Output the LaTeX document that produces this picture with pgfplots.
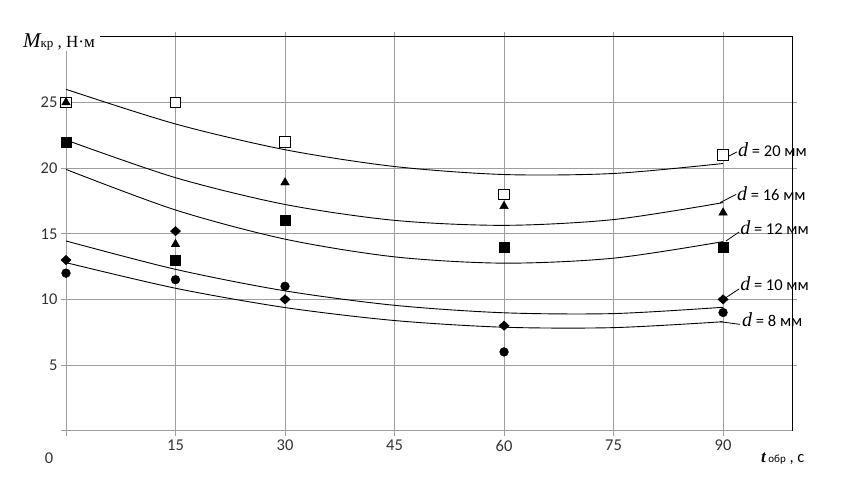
\documentclass[border=0pt]{standalone}
\usepackage{fontspec}
\setmainfont{Carlito}
\newfontfamily\serifit{Liberation Serif}
\usepackage{pgfplots}
\pgfplotsset{compat=1.18}
\newcommand{\fs}[1]{\fontsize{#1}{#1}\selectfont}
\newcommand{\dlab}[1]{{\fs{20}\serifit\itshape d}{\fs{16.5} = #1 мм}}

\begin{document}
\begin{tikzpicture}
\path[use as bounding box] (0,0) rectangle (866pt,481pt);
\begin{axis}[
  at={(66pt,50.3pt)}, anchor=south west,
  scale only axis, width=726.4pt, height=393.9pt,
  xmin=0, xmax=99.5, ymin=0, ymax=30,
  axis line style={draw=none},
  xtick={0,15,...,90}, xticklabels={,15,30,45,60,75,90},
  ytick={5,10,...,25},
  grid=major, grid style={black!38, line width=0.9pt},
  tick align=outside, major tick length=5pt,
  tick style={black!38, line width=0.9pt},
  ticklabel style={font=\fs{16.5}, text=black!80},
  xticklabel style={yshift=-1pt},
  /pgf/number format/assume math mode=true,
  clip=false,
]
% trend lines
\addplot[black, line width=0.9pt, smooth] coordinates
  {(0,26.0) (15,23.36) (30,21.4) (45,20.12) (60,19.51) (75,19.59) (90,20.35)};
\addplot[black, line width=0.9pt, smooth] coordinates
  {(0,22.14) (15,19.27) (30,17.23) (45,16.02) (60,15.64) (75,16.08) (90,17.37)};
\addplot[black, line width=0.9pt, smooth] coordinates
  {(0,19.9) (15,16.81) (30,14.59) (45,13.24) (60,12.76) (75,13.14) (90,14.4)};
\addplot[black, line width=0.9pt, smooth] coordinates
  {(0,14.45) (15,12.29) (30,10.65) (45,9.55) (60,8.98) (75,8.92) (90,9.4)};
\addplot[black, line width=0.9pt, smooth] coordinates
  {(0,12.8) (15,10.85) (30,9.38) (45,8.39) (60,7.88) (75,7.85) (90,8.3)};
% measured points
\addplot[only marks, mark=square*, mark size=5.3pt,
  mark options={fill=white, draw=black, line width=0.9pt}] coordinates
  {(0,25) (15,25) (30,22) (60,18) (90,21)};
\addplot[only marks, mark=triangle*, mark size=5pt, mark options={fill=black}] coordinates
  {(0,25) (15,14.2) (30,18.9) (60,17.1) (90,16.6)};
\addplot[only marks, mark=square*, mark size=5pt, mark options={fill=black}] coordinates
  {(0,22) (15,13) (30,16) (60,14) (90,14)};
\addplot[only marks, mark=diamond*, mark size=4.7pt, mark options={fill=black, xscale=1.45}] coordinates
  {(0,13) (15,15.2) (30,10) (60,8) (90,10)};
\addplot[only marks, mark=*, mark size=4.4pt, mark options={fill=black}] coordinates
  {(0,12) (15,11.5) (30,11) (60,6) (90,9)};
% frame
\draw[black!38, line width=0.9pt] (axis cs:-0.7,0) -- (axis cs:99.5,0);
\draw[black, line width=1.2pt] (axis cs:99.5,0) -- (axis cs:99.5,30) -- (axis cs:4.66,30);
% axis titles
\node[anchor=base west, fill=white, inner sep=1.5pt] at (axis cs:-6.1,29.22)
  {\serifit{\fs{21}\itshape M}{\fs{13}кр}{\fs{17} , Н·м}};
\node[anchor=base west, inner sep=0pt] at (axis cs:95.2,-2.46)
  {{\fs{17}\serifit\itshape\bfseries t}{\fs{11} обр}{\fs{16.5} , с}};
\node[anchor=center, font=\fs{16.5}, text=black!80] at (axis cs:-2.33,-2.1) {0};
% curve labels with leaders
\draw[black, line width=0.8pt] (axis cs:90.55,20.85) -- (axis cs:91.9,21.23);
\node[anchor=base west, inner sep=0pt] at (axis cs:92.05,20.85) {\dlab{20}};
\draw[black, line width=0.8pt] (axis cs:89.6,17.37) -- (axis cs:91.8,18.0);
\node[anchor=base west, inner sep=0pt] at (axis cs:91.9,17.57) {\dlab{16}};
\draw[black, line width=0.8pt] (axis cs:90.4,14.45) -- (axis cs:92.2,15.13);
\node[anchor=base west, inner sep=0pt] at (axis cs:92.33,14.98) {\dlab{12}};
\draw[black, line width=0.8pt] (axis cs:90.3,10.1) -- (axis cs:92.2,10.8);
\node[anchor=base west, inner sep=0pt] at (axis cs:92.33,10.66) {\dlab{10}};
\draw[black, line width=0.8pt] (axis cs:89.6,8.3) -- (axis cs:92.3,8.1);
\node[anchor=base west, inner sep=0pt] at (axis cs:92.6,7.97) {\dlab{8}};
\end{axis}
\end{tikzpicture}
\end{document}
